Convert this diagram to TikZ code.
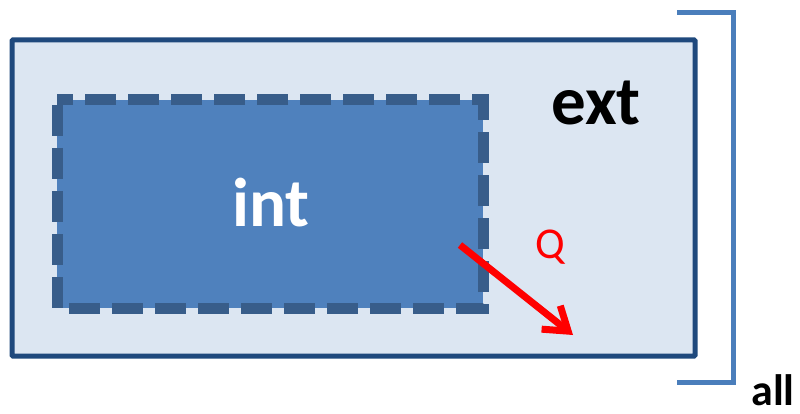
\documentclass[tikz,border=0pt]{standalone}
\usepackage{fontspec}
\setmainfont{Carlito}
\usetikzlibrary{arrows.meta}
\definecolor{extfill}{HTML}{DCE6F2}
\definecolor{extline}{HTML}{1F497D}
\definecolor{intfill}{HTML}{4F81BD}
\definecolor{intline}{HTML}{385D8A}
\definecolor{brack}{HTML}{4A7EBB}
\tikzset{
  extbox/.style={fill=extfill, draw=extline, line width=5pt, rounded corners=1pt},
  intbox/.style={fill=intfill, draw=intline, line width=11pt, dash pattern=on 31pt off 12pt, dash phase=38pt},
  bracketline/.style={draw=brack, line width=5pt},
  bigtxt/.style={inner sep=0pt, anchor=base, font=\bfseries\fontsize{69}{80}\selectfont},
  heat/.style={draw=red, line width=7pt, -{Straight Barb[length=22pt, width=30pt]}},
}
\begin{document}
\begin{tikzpicture}[x=1pt, y=-1pt]
\useasboundingbox (0,0) rectangle (800,414);
\draw[extbox] (12,40) rectangle (695,356);
\draw[intbox] (57,100) rectangle (483,308);
\draw[bracketline] (677,13) -- (733,13) -- (733,382) -- (677,382);
\node[bigtxt, text=white] (int) at (271,226) {int};
\node[bigtxt, text=black] (ext) at (596,125) {ext};
\node[inner sep=0pt, anchor=base, font=\bfseries\fontsize{44}{54}\selectfont] (all) at (773,405) {all};
\node[inner sep=0pt, anchor=base, text=red, font=\fontsize{44}{52}\selectfont] (Q) at (550,258) {Q};
\coordinate (qs) at (460,245);
\coordinate (qe) at (573,335);
\draw[heat] (qs) -- (qe);
\end{tikzpicture}
\end{document}
